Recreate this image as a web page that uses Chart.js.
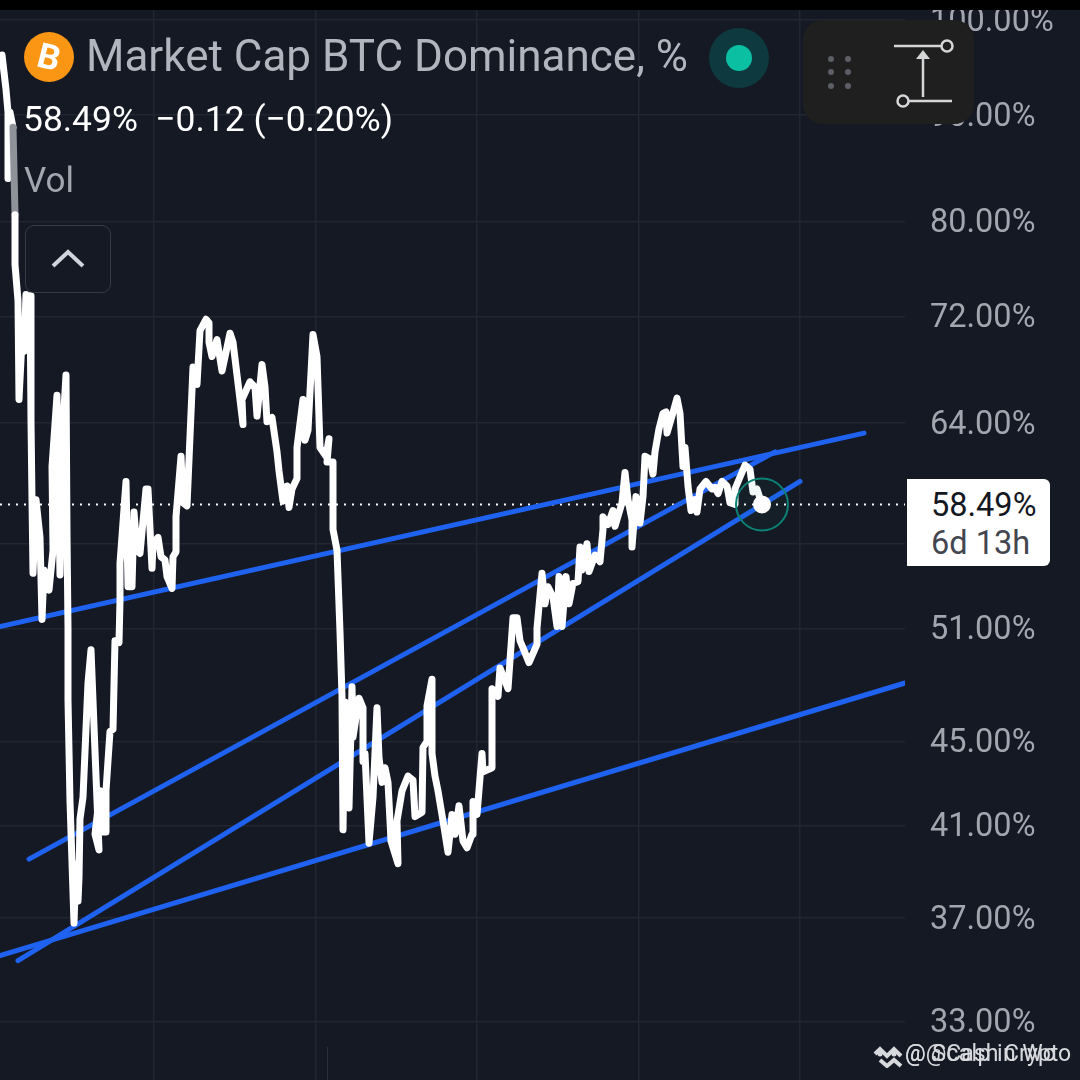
<!DOCTYPE html>
<html>
<head>
<meta charset="utf-8">
<title>Market Cap BTC Dominance</title>
<script src="https://cdn.jsdelivr.net/npm/chart.js@4"></script>
<style>
  html, body { margin: 0; padding: 0; background: #151924; }
  #wrap { position: relative; width: 1080px; height: 1080px; overflow: hidden; font-family: Roboto, sans-serif; }
  canvas { position: absolute; left: 0; top: 0; }
  .txt { position: absolute; white-space: pre; line-height: 1; }
  #topbar { position: absolute; left: 0; top: 0; width: 1080px; height: 10px; background: #000; }
  #title { left: 86px; top: 34px; font-size: 44px; color: #b2b5be; }
  #quote { left: 23px; top: 102px; font-size: 35.4px; color: #fff; }
  #vol { left: 24px; top: 163px; font-size: 35px; color: #a3a6af; }
  #collapse { position: absolute; left: 25px; top: 225px; width: 84px; height: 66px; border: 1.5px solid #363a45; border-radius: 9px; }
  #tool { position: absolute; left: 803px; top: 20px; width: 171px; height: 104px; background: #1f1f1f; border-radius: 20px; }
  #priceBox { position: absolute; left: 907px; top: 479px; width: 143px; height: 87px; background: #fff; border-radius: 0 6px 6px 0; }
  #priceVal { left: 24px; top: 10px; font-size: 32.5px; color: #131722; }
  #priceTime { left: 24px; top: 48px; font-size: 32.5px; color: #434651; }
  #tickMark { position: absolute; left: 327px; top: 1047px; width: 1px; height: 33px; background: #2a2e39; }
  .mark { font-size: 23px; color: #d8d9dd; top: 1042px; left: 905px; }
  svg { position: absolute; }
</style>
</head>
<body>
<div id="wrap">
  <canvas id="chart" width="1080" height="1080"></canvas>
  <div id="topbar"></div>

  <svg style="left:20px;top:28px" width="60" height="60">
    <circle cx="29" cy="29" r="25" fill="#fb9514"/>
    <text x="29" y="41" text-anchor="middle" font-family="Roboto" font-weight="700" font-size="35" fill="#fff" transform="rotate(14 29 29)">B</text>
  </svg>
  <div id="title" class="txt">Market Cap BTC Dominance, %</div>
  <svg style="left:705px;top:25px" width="68" height="68">
    <circle cx="34" cy="33" r="30" fill="#0e3a3f"/>
    <circle cx="34" cy="33" r="13" fill="#0bbfa3"/>
  </svg>
  <div id="quote" class="txt">58.49%  −0.12 (−0.20%)</div>
  <div id="vol" class="txt">Vol</div>
  <div id="collapse"></div>
  <svg style="left:50px;top:248px" width="36" height="22">
    <polyline points="3,18 18,4 33,18" fill="none" stroke="#d1d4dc" stroke-width="4"/>
  </svg>

  <div id="tool"></div>
  <svg style="left:803px;top:20px" width="171" height="104">
    <g fill="#5d5f66">
      <circle cx="28" cy="39" r="3"/><circle cx="45" cy="39" r="3"/>
      <circle cx="28" cy="52" r="3"/><circle cx="45" cy="52" r="3"/>
      <circle cx="28" cy="66" r="3"/><circle cx="45" cy="66" r="3"/>
    </g>
    <g fill="none" stroke="#d5d6d8" stroke-width="2.5">
      <line x1="91" y1="26" x2="139" y2="26"/>
      <circle cx="144" cy="26" r="5.5"/>
      <line x1="106" y1="81" x2="149" y2="81"/>
      <circle cx="100" cy="81" r="5.5"/>
      <line x1="120" y1="77" x2="120" y2="36"/>
    </g>
    <polygon points="120,30 113,39 127,39" fill="#d5d6d8"/>
  </svg>

  <div id="priceBox">
    <div id="priceVal" class="txt">58.49%</div>
    <div id="priceTime" class="txt">6d 13h</div>
  </div>

  <div id="tickMark"></div>
  <svg style="left:871px;top:1040px" width="36" height="28">
    <g fill="none" stroke="#d8d9dd" stroke-width="4">
      <polyline points="4,14 9,9 16,16 23,9 30,16"/>
      <polyline points="9,20 16,26 23,20 30,26"/>
    </g>
    <circle cx="9" cy="14" r="2.5" fill="#d8d9dd"/>
    <circle cx="23" cy="14" r="2.5" fill="#d8d9dd"/>
  </svg>
  <div class="txt mark">@@Cash Crypto</div>
  <div class="txt mark" style="letter-spacing:0.4px">@ Scalp in Wo</div>
</div>

<script>
// eixo x em barras do grafico, y em % de dominancia
const barIndex = [
  2,6,8,8,10,13,15,15,18,19,22,24,26,28,30,31,32,33,36,40,42,44,49,53,52,57,60,62,66,67,
  68,68,70,74,76,78,79,80,83,88,91,95,99,95,100,102,106,106,110,113,115,119,120,120,126,128,132,134,137,140,
  146,148,152,153,158,161,165,167,172,173,176,176,181,183,187,193,197,200,206,209,209,212,217,222,230,233,238,243,242,250,
  255,257,262,265,267,272,277,279,283,287,289,292,297,297,303,305,308,313,317,320,326,329,327,333,333,337,340,342,343,345,
  349,352,353,359,363,363,365,369,373,377,379,382,385,388,390,391,398,397,402,408,413,415,422,423,427,427,432,432,435,438,
  443,448,452,455,459,463,467,472,473,477,482,483,492,492,498,500,508,513,517,520,523,529,537,537,542,545,548,553,557,559,
  562,566,569,573,578,580,582,587,589,595,600,603,603,608,613,615,622,625,628,632,632,636,640,643,645,650,653,655,659,663,
  666,667,672,677,680,683,685,688,691,695,697,700,706,712,715,718,722,727,730,735,735,745,750,753,757,762
];
const dominance = [
  96.2,92.6,90.3,83.9,90.3,88.8,80.6,76.3,73.3,65.7,70.2,69.3,73.8,70.2,73.7,64.2,58.8,54.2,58.8,56.4,51.5,54.4,53.2,55.6,61.0,66.0,54.1,62.6,67.5,56.7,
  51.0,47.1,42.1,36.8,39.3,37.7,38.7,41.3,42.3,48.0,49.8,44.5,39.9,40.6,42.6,40.7,40.7,42.6,45.5,45.6,50.3,50.2,52.6,54.8,60.0,53.4,53.4,58.0,55.6,55.4,
  59.5,59.5,54.5,56.0,56.4,55.2,55.0,54.0,53.3,55.2,55.5,57.7,61.7,58.6,58.4,68.1,66.8,70.9,71.8,71.5,70.0,68.9,70.2,67.8,70.7,70.0,66.9,63.9,65.7,67.0,
  66.6,64.5,68.3,66.6,64.1,64.4,62.0,60.7,58.7,59.7,58.3,59.5,60.2,62.3,65.7,62.8,63.5,70.6,68.9,62.3,61.7,62.9,61.3,61.3,56.9,55.6,50.8,47.3,40.8,47.0,
  41.8,47.8,45.2,47.2,46.7,44.0,44.4,40.2,42.3,46.7,44.2,43.0,43.7,43.0,41.2,40.3,39.3,41.2,42.6,43.3,43.1,41.4,41.6,44.7,45.0,46.8,48.2,44.4,43.3,42.6,
  41.2,39.8,41.5,40.6,41.9,40.3,40.0,40.6,42.1,41.5,44.4,43.5,43.7,47.7,47.3,48.8,47.7,51.6,51.6,50.3,49.9,49.1,50.1,51.0,54.2,52.4,53.4,52.8,51.1,54.0,
  51.1,54.0,52.4,53.6,53.7,55.8,54.4,56.0,54.3,55.3,54.9,56.9,57.7,57.2,58.1,57.1,58.6,60.6,58.8,57.5,55.8,59.0,57.3,59.0,61.7,61.5,60.5,62.0,63.6,64.7,
  64.8,63.3,64.5,65.8,64.7,61.0,62.3,59.7,58.1,58.8,58.0,59.5,60.0,59.5,59.6,59.2,60.0,59.7,58.6,58.5,59.5,61.1,60.8,59.3,59.5,58.49
];

// linhas de tendencia: [inicio, fim]
const trendAX = [0, 864],   trendAY = [51.1, 63.3];
const trendBX = [29, 775],  trendBY = [39.5, 62.0];
const trendCX = [18, 800],  trendCY = [35.3, 60.0];
const trendDX = [0, 905],   trendDY = [35.5, 48.0];

const lastBar = [762];
const lastValue = [58.49];
const priceLineX = [0, 905];
const priceLineY = [58.49, 58.49];

const yTicks = [100, 90, 80, 72, 64, 56, 51, 45, 41, 37, 33];
const xTicks = [154, 316, 477, 639, 800];

const toPoints = (xs, ys) => xs.map((x, i) => ({ x: x, y: ys[i] }));

function trendDataset(xs, ys) {
  return {
    data: toPoints(xs, ys), showLine: true, borderColor: '#1f62f0', borderWidth: 5,
    borderCapStyle: 'round', pointRadius: 0
  };
}

// sem isso o Chart.js reserva espaco para os rotulos nas pontas
function noPadding(axis) {
  axis.paddingTop = axis.paddingBottom = axis.paddingLeft = axis.paddingRight = 0;
}

new Chart(document.getElementById('chart'), {
  type: 'scatter',
  data: {
    datasets: [
      // o primeiro dataset fica por cima
      { data: toPoints(lastBar, lastValue), pointRadius: 9, pointBackgroundColor: '#fff', pointBorderWidth: 0 },
      { data: toPoints(lastBar, lastValue), pointRadius: 26, pointBackgroundColor: 'rgba(12,138,126,0.06)', pointBorderColor: '#0c8175', pointBorderWidth: 2 },
      {
        data: toPoints(barIndex, dominance), showLine: true, borderColor: '#fff', borderWidth: 7,
        borderJoinStyle: 'round', borderCapStyle: 'round', pointRadius: 0,
        segment: { borderColor: ctx => ctx.p0DataIndex === 5 ? '#8f9299' : undefined }
      },
      trendDataset(trendAX, trendAY),
      trendDataset(trendBX, trendBY),
      trendDataset(trendCX, trendCY),
      trendDataset(trendDX, trendDY),
      {
        data: toPoints(priceLineX, priceLineY), showLine: true, borderColor: '#fff', borderWidth: 2,
        borderDash: [2, 6], pointRadius: 0
      }
    ]
  },
  options: {
    responsive: false,
    animation: false,
    layout: { padding: 0, autoPadding: false },
    plugins: { legend: { display: false }, tooltip: { enabled: false } },
    scales: {
      x: {
        type: 'linear', min: 0, max: 905,
        afterBuildTicks: axis => { axis.ticks = xTicks.map(v => ({ value: v })); },
        afterFit: axis => { axis.height = 0; noPadding(axis); },
        ticks: { display: false },
        border: { display: false },
        grid: { color: '#222631', lineWidth: 1.5, drawTicks: false }
      },
      y: {
        type: 'logarithmic', position: 'right', min: 30.93, max: 102.24,
        afterBuildTicks: axis => { axis.ticks = yTicks.map(v => ({ value: v })); },
        afterFit: axis => { axis.width = 175; noPadding(axis); },
        ticks: {
          autoSkip: false, padding: 25, labelOffset: 2.5, color: '#a3a6af',
          font: { family: 'Roboto', size: 32.5 },
          callback: v => v.toFixed(2) + '%'
        },
        border: { display: false },
        grid: { color: '#222631', lineWidth: 1.5, drawTicks: false }
      }
    }
  }
});
</script>
</body>
</html>
